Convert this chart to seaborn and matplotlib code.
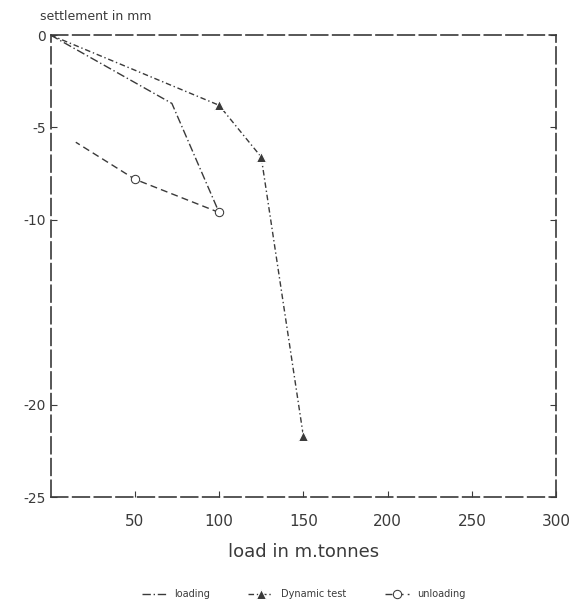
import pandas as pd
import seaborn as sns
import numpy as np
import matplotlib
matplotlib.use('Agg')
import matplotlib.pyplot as plt

# values read from the scanned plate
loading_load = [0, 72, 100]
loading_settle = [0, -3.7, -9.6]

dynamic_load = [0, 100, 125, 150]
dynamic_settle = [0, -3.8, -6.6, -21.7]

unloading_load = [100, 50, 15]
unloading_settle = [-9.6, -7.8, -5.8]

x_ticks = [50, 100, 150, 200, 250, 300]
y_ticks = [0, -5, -10, -20, -25]

sns.set_style('ticks')
plt.rcParams['font.family'] = ['DejaVu Sans']

fig = plt.figure(figsize=(5.74, 6.04), dpi=100)
ax = fig.add_axes([0.088, 0.177, 0.881, 0.765])

ink = '#3a3a3a'

load_df = pd.DataFrame({'load': loading_load, 'settle': loading_settle})
dyn_df = pd.DataFrame({'load': dynamic_load, 'settle': dynamic_settle})
unl_df = pd.DataFrame({'load': unloading_load, 'settle': unloading_settle})

sns.lineplot(data=load_df, x='load', y='settle', sort=False, ax=ax, color=ink,
             lw=1.0, dashes=False, label='loading')
ax.lines[-1].set_linestyle((0, (6, 2, 1, 2)))

sns.lineplot(data=dyn_df, x='load', y='settle', sort=False, ax=ax, color=ink,
             lw=1.0, marker='^', markersize=7, markevery=[1, 2, 3],
             label='Dynamic test')
ax.lines[-1].set_linestyle((0, (4, 2, 1, 2)))

sns.lineplot(data=unl_df, x='load', y='settle', sort=False, ax=ax, color=ink,
             lw=1.0, marker='o', markersize=6, markerfacecolor='white',
             markeredgecolor=ink, markevery=[0, 1], label='unloading')
ax.lines[-1].set_linestyle((0, (5, 3)))

ax.set_xlim(0, 300)
ax.set_ylim(-25, 0)
ax.set_xticks(x_ticks)
ax.set_yticks(y_ticks)
ax.set_xticklabels([str(t) for t in x_ticks], color=ink, fontsize=11)
ax.set_yticklabels([str(t) for t in y_ticks], color=ink, fontsize=10)
ax.tick_params(axis='x', pad=12)
ax.tick_params(direction='in', length=4, color=ink, top=False, right=True)

for side, sp in ax.spines.items():
    sp.set_visible(True)
    sp.set_color(ink)
    sp.set_linewidth(1.2)
    sp.set_linestyle((0, (10, 3)))

ax.set_xlabel('load in m.tonnes', fontsize=13, color=ink, labelpad=10)
ax.set_ylabel('')
ax.text(-0.02, 1.025, 'settlement in mm', transform=ax.transAxes,
        fontsize=9, color=ink, ha='left', va='bottom')

ax.legend(loc='upper center', bbox_to_anchor=(0.5, -0.18), ncol=3,
          frameon=False, fontsize=7, handlelength=2.5, columnspacing=4,
          labelcolor=ink)

fig.savefig('out.png', dpi=100)
